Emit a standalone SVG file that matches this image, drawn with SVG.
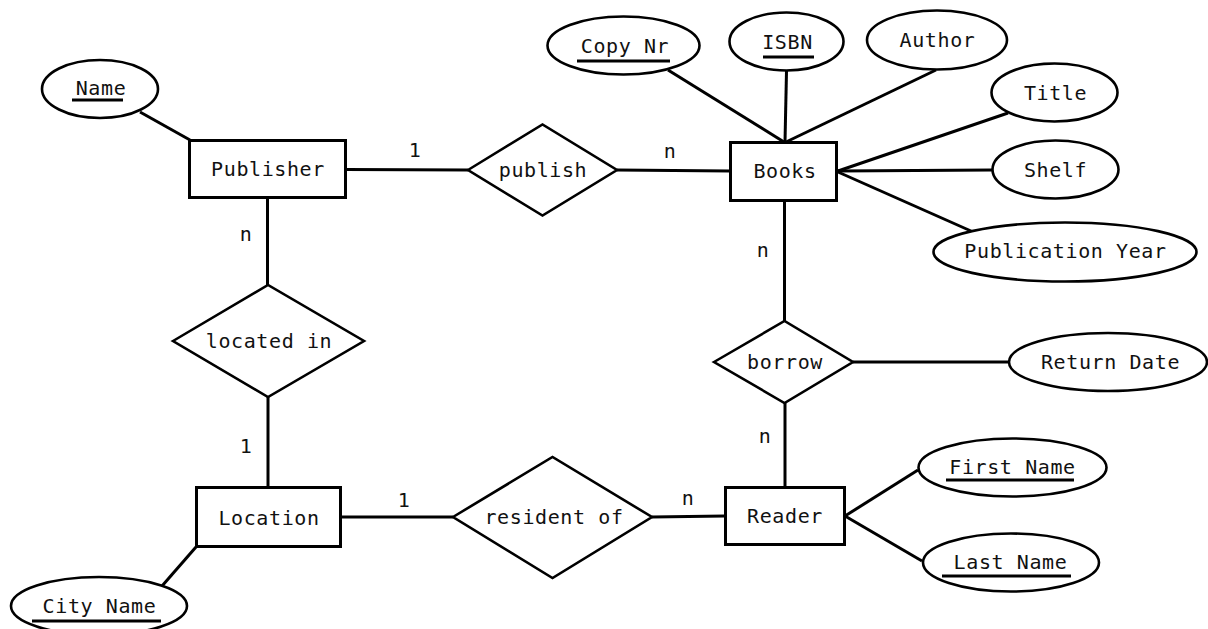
<svg xmlns="http://www.w3.org/2000/svg" width="1208" height="629" viewBox="0 0 1208 629">
<style>
  .bg { fill: #ffffff; }
  .ent { fill: #ffffff; stroke: #000; stroke-width: 3; }
  .rel { fill: #ffffff; stroke: #000; stroke-width: 2.6; stroke-linejoin: miter; }
  .att { fill: #ffffff; stroke: #000; stroke-width: 2.6; }
  .con line { stroke: #000; stroke-width: 3; stroke-linecap: butt; }
  .ul { stroke: #000; stroke-width: 3; }
  text { font-family: "DejaVu Sans Mono", "Liberation Mono", monospace; font-size: 20px; letter-spacing: 0.6px; fill: #111; text-anchor: middle; }
</style>
<rect class="bg" x="0" y="0" width="1208" height="629"/>

<g id="connectors" class="con">
  <line x1="140" y1="112" x2="190" y2="140"/>
  <line x1="346" y1="169.5" x2="468" y2="170"/>
  <line x1="617" y1="170" x2="730" y2="171"/>
  <line x1="668" y1="70" x2="784" y2="142"/>
  <line x1="786.5" y1="71" x2="785" y2="142"/>
  <line x1="936" y1="70" x2="786" y2="142"/>
  <line x1="1008" y1="113" x2="838" y2="171"/>
  <line x1="838" y1="171" x2="992" y2="170"/>
  <line x1="838" y1="172" x2="971" y2="231"/>
  <line x1="784.5" y1="201" x2="784.5" y2="321"/>
  <line x1="853" y1="362" x2="1009" y2="362"/>
  <line x1="785" y1="403" x2="785" y2="487"/>
  <line x1="845" y1="516" x2="918" y2="470"/>
  <line x1="845" y1="516" x2="922" y2="561"/>
  <line x1="652" y1="517" x2="725" y2="516"/>
  <line x1="341" y1="517" x2="453" y2="517"/>
  <line x1="268" y1="487" x2="268" y2="397"/>
  <line x1="267.5" y1="285" x2="267.5" y2="198"/>
  <line x1="196" y1="547" x2="162" y2="586"/>
  <text x="415" y="157">1</text>
  <text x="670" y="158">n</text>
  <text x="246" y="241">n</text>
  <text x="246" y="453">1</text>
  <text x="404" y="507">1</text>
  <text x="688" y="505">n</text>
  <text x="763" y="257">n</text>
  <text x="765" y="443">n</text>
</g>

<g id="publisher">
  <rect class="ent" x="189.5" y="140.5" width="156" height="57"/>
  <text x="268" y="176">Publisher</text>
</g>
<g id="books">
  <rect class="ent" x="730.5" y="142.5" width="106" height="58"/>
  <text x="785" y="178">Books</text>
</g>
<g id="location">
  <rect class="ent" x="196.5" y="487.5" width="144" height="59"/>
  <text x="269" y="525">Location</text>
</g>
<g id="reader">
  <rect class="ent" x="725.5" y="487.5" width="119" height="57"/>
  <text x="785" y="523">Reader</text>
</g>

<g id="publish">
  <polygon class="rel" points="468,170 542.5,124.5 617,170 542.5,215.5"/>
  <text x="543" y="177">publish</text>
</g>
<g id="borrow">
  <polygon class="rel" points="714,362 784.5,321 853,362 784.5,403"/>
  <text x="785" y="369">borrow</text>
</g>
<g id="located-in">
  <polygon class="rel" points="173,341 268,285 364,341 268,397"/>
  <text x="269" y="348">located in</text>
</g>
<g id="resident-of">
  <polygon class="rel" points="453,517 552.5,457 652,517 552.5,578"/>
  <text x="554" y="524">resident of</text>
</g>

<g id="attr-name">
  <ellipse class="att" cx="100" cy="89" rx="58" ry="29"/>
  <text x="101" y="95">Name</text>
  <line class="ul" x1="72" y1="100" x2="123" y2="100"/>
</g>
<g id="attr-copynr">
  <ellipse class="att" cx="623.5" cy="45.5" rx="76" ry="29"/>
  <text x="625" y="53">Copy Nr</text>
  <line class="ul" x1="577" y1="61" x2="670" y2="61"/>
</g>
<g id="attr-isbn">
  <ellipse class="att" cx="786.5" cy="41.5" rx="57" ry="29"/>
  <text x="787.5" y="49">ISBN</text>
  <line class="ul" x1="763" y1="57" x2="814" y2="57"/>
</g>
<g id="attr-author">
  <ellipse class="att" cx="937" cy="40" rx="70" ry="29.5"/>
  <text x="937.5" y="47">Author</text>
</g>
<g id="attr-title">
  <ellipse class="att" cx="1054.5" cy="92.5" rx="63" ry="29"/>
  <text x="1055.5" y="100">Title</text>
</g>
<g id="attr-shelf">
  <ellipse class="att" cx="1055.5" cy="169.5" rx="63" ry="29"/>
  <text x="1055.5" y="177">Shelf</text>
</g>
<g id="attr-pubyear">
  <ellipse class="att" cx="1065" cy="252" rx="131.5" ry="29.5"/>
  <text x="1065.5" y="258">Publication Year</text>
</g>
<g id="attr-returndate">
  <ellipse class="att" cx="1108" cy="362" rx="99" ry="29"/>
  <text x="1110.5" y="369">Return Date</text>
</g>
<g id="attr-firstname">
  <ellipse class="att" cx="1012.5" cy="467.5" rx="94" ry="29"/>
  <text x="1012.5" y="474">First Name</text>
  <line class="ul" x1="946" y1="480" x2="1074" y2="480"/>
</g>
<g id="attr-lastname">
  <ellipse class="att" cx="1011" cy="562.5" rx="88" ry="29"/>
  <text x="1010.5" y="569">Last Name</text>
  <line class="ul" x1="942" y1="576" x2="1071" y2="576"/>
</g>
<g id="attr-cityname">
  <ellipse class="att" cx="99" cy="606" rx="88" ry="29"/>
  <text x="99.5" y="613">City Name</text>
  <line class="ul" x1="32" y1="621" x2="161" y2="621"/>
</g>
</svg>
